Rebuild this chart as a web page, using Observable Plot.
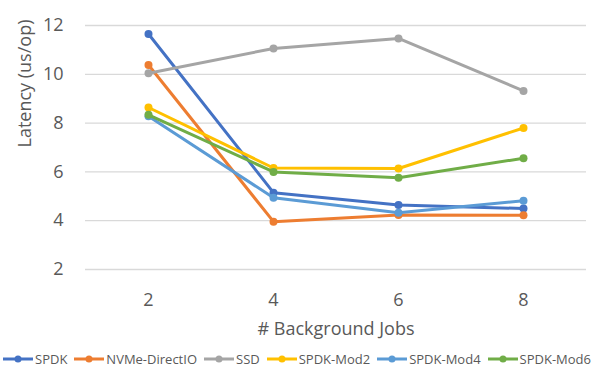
<!DOCTYPE html>
<html>
<head>
<meta charset="utf-8">
<script src="https://cdn.jsdelivr.net/npm/d3@7"></script>
<script src="https://cdn.jsdelivr.net/npm/@observablehq/plot@0.6"></script>
<style>
  html, body { margin: 0; padding: 0; background: #fff; }
  #wrap { position: relative; width: 600px; height: 367px; font-family: "Open Sans", sans-serif; }
  #legend { position: absolute; left: 3px; top: 351px; height: 16px; display: flex; align-items: center; white-space: nowrap; font-size: 13px; line-height: 14px; color: #595959; }
  #legend .item { display: flex; align-items: center; margin-right: 7px; flex: none; }
  #legend svg { margin-right: 2px; }
</style>
</head>
<body>
<div id="wrap"><div id="chart"></div><div id="legend"></div></div>
<script>
const jobs = [2, 4, 6, 8];
const seriesNames = ["SPDK", "NVMe-DirectIO", "SSD", "SPDK-Mod2", "SPDK-Mod4", "SPDK-Mod6"];
const colors = ["#4472C4", "#ED7D31", "#A5A5A5", "#FFC000", "#5B9BD5", "#70AD47"];
const spdk = [11.65, 5.15, 4.64, 4.5];
const nvmeDirectIO = [10.38, 3.96, 4.23, 4.22];
const ssd = [10.04, 11.06, 11.47, 9.32];
const spdkMod2 = [8.64, 6.16, 6.14, 7.8];
const spdkMod4 = [8.28, 4.94, 4.33, 4.82];
const spdkMod6 = [8.34, 6.0, 5.76, 6.56];
const yTicks = [2, 4, 6, 8, 10, 12];
const xLabel = "# Background Jobs";
const yLabel = "Latency (us/op)";

const allValues = [spdk, nvmeDirectIO, ssd, spdkMod2, spdkMod4, spdkMod6];
const data = [];
seriesNames.forEach((s, i) => jobs.forEach((j, k) => data.push({series: s, jobs: j, value: allValues[i][k]})));

const marks = [
  Plot.gridY(yTicks, {stroke: "#d9d9d9", strokeOpacity: 1, strokeWidth: 1.3}),
  Plot.axisY(yTicks, {tickSize: 0, tickPadding: 22, fontSize: 18, fill: "#595959", label: null}),
  Plot.axisX(jobs, {tickSize: 0, tickPadding: 24, fontSize: 18, fill: "#595959", label: null}),
  Plot.text([yLabel], {frameAnchor: "left", rotate: -90, dx: -60, fontSize: 18, fill: "#595959"}),
  Plot.text([xLabel], {frameAnchor: "bottom", dy: 65, fontSize: 18, fill: "#595959"})
];
seriesNames.forEach((s, i) => {
  const d = data.filter(r => r.series === s);
  marks.push(Plot.line(d, {x: "jobs", y: "value", stroke: colors[i], strokeWidth: 3}));
  marks.push(Plot.dot(d, {x: "jobs", y: "value", fill: colors[i], r: 4}));
});

const chart = Plot.plot({
  width: 600,
  height: 349,
  marginLeft: 85,
  marginRight: 14,
  marginTop: 25,
  marginBottom: 80,
  style: {fontFamily: "Open Sans, sans-serif", background: "#fff"},
  x: {type: "point", domain: jobs, padding: 0.5},
  y: {domain: [2, 12]},
  marks
});
document.getElementById("chart").appendChild(chart);

const legend = document.getElementById("legend");
seriesNames.forEach((s, i) => {
  const item = document.createElement("div");
  item.className = "item";
  item.innerHTML = `<svg width="30" height="10"><line x1="0" y1="5" x2="30" y2="5" stroke="${colors[i]}" stroke-width="3"/><circle cx="15" cy="5" r="3.5" fill="${colors[i]}"/></svg><span>${s}</span>`;
  legend.appendChild(item);
});
</script>
</body>
</html>
